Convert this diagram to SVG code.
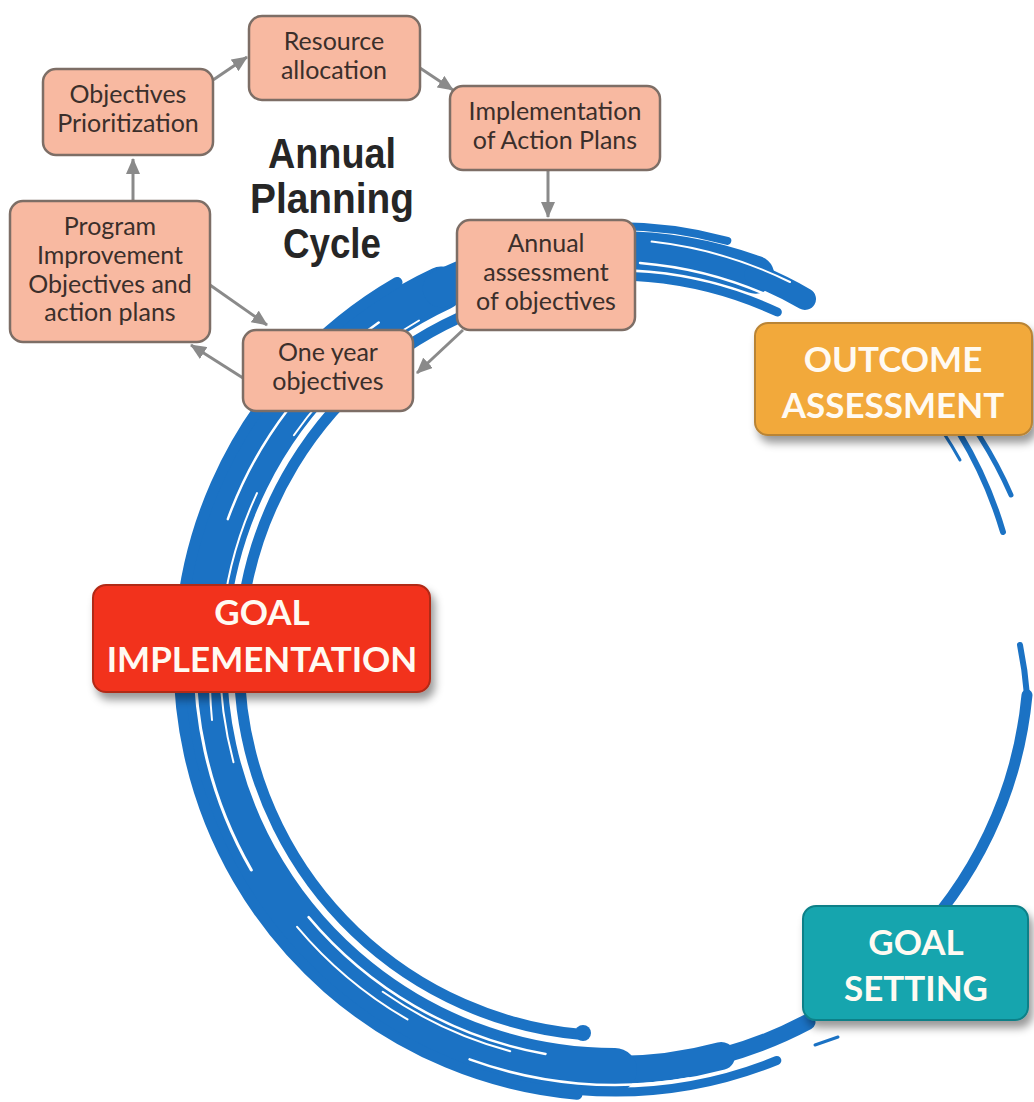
<svg xmlns="http://www.w3.org/2000/svg" width="1034" height="1102" viewBox="0 0 1034 1102">
<style>
.brush{fill:none;stroke:#1b72c4;stroke-linecap:round}
.streak{fill:none;stroke:#ffffff;stroke-linecap:round}
.sbox{fill:#f8b9a1;stroke:#7d6e66;stroke-width:2.5}
.stxt{font-family:Lato,"Open Sans",sans-serif;font-size:25px;fill:#3b2f2b;text-anchor:middle}
.btxt{font-family:Lato,"Open Sans",sans-serif;font-weight:bold;font-size:35px;fill:#fffaf2;text-anchor:middle}
.title{font-family:"Liberation Sans",Arial,sans-serif;font-weight:bold;font-size:42px;fill:#262626;text-anchor:middle}
.conn{fill:none;stroke:#8a8a8a;stroke-width:3}
</style>
<defs>
<marker id="ah" markerWidth="16" markerHeight="14" refX="15" refY="7" orient="auto" markerUnits="userSpaceOnUse">
<path d="M0,0 L16,7 L0,14 Z" fill="#8a8a8a"/>
</marker>
<filter id="sh" x="-10%" y="-10%" width="130%" height="140%">
<feDropShadow dx="4" dy="7" stdDeviation="4" flood-color="#000" flood-opacity="0.4"/>
</filter>
</defs>
<rect width="1034" height="1102" fill="#ffffff"/>

<g id="brush-circle">
<!-- core -->
<path class="brush" stroke-width="16" d="M807.5 1022 A410 410 0 0 1 721.1 1056"/>
<path class="brush" stroke-width="28" d="M721.1 1056 A410 410 0 0 1 615 1070"/>
<path class="brush" stroke-width="44" d="M615 1070 A410 410 0 0 1 441.7 288.4"/>
<path class="brush" stroke-width="38" d="M441.7 288.4 A410 410 0 0 1 755.2 274.7"/>
<path class="brush" stroke-width="22" d="M755.2 274.7 A410 410 0 0 1 805 299"/>
<!-- outer strands -->
<path class="brush" stroke-width="9" d="M776.8 1060.5 A432 432 0 0 1 577.4 1090.4"/>
<path class="brush" stroke-width="11" d="M577 1094.3 A436 436 0 0 1 397 282.4"/>
<path class="brush" stroke-width="8" d="M466.6 252.2 A434 434 0 0 1 727.3 240.8"/>
<!-- inner strands -->
<path class="brush" stroke-width="11" d="M582.2 1034.6 A376 376 0 0 1 486.4 306.7"/>
<circle cx="583" cy="1033" r="8" fill="#1b72c4"/>
<path class="brush" stroke-width="9" d="M515.6 289.1 A384 384 0 0 1 777.3 312"/>
<!-- right thin strands -->
<path class="brush" stroke-width="6" d="M908 366 A415 415 0 0 1 1003 532"/>
<path class="brush" stroke-width="5" d="M942 386 A427 427 0 0 1 1011 495"/>
<path class="brush" stroke-width="3" d="M925 407 A400 400 0 0 1 960 460"/>
<path class="brush" stroke-width="6" d="M1020 645 A412 412 0 0 1 1027 695"/>
<path class="brush" stroke-width="11" d="M1027 695 A412 412 0 0 1 905 951"/>
<path class="brush" stroke-width="3" d="M815 1045 L838 1037"/>
<!-- streaks -->
<path class="streak" stroke-width="2.5" d="M545.5 1053.9 A400 400 0 0 1 308.6 917.1"/>
<path class="streak" stroke-width="3" d="M251.3 870 A420 420 0 0 1 196.6 623.4"/>
<path class="streak" stroke-width="2" d="M233.5 762.2 A395 395 0 0 1 257 493.1"/>
<path class="streak" stroke-width="2.5" d="M227.8 519.1 A412 412 0 0 1 378.7 322.5"/>
<path class="streak" stroke-width="2" d="M510.2 1051.2 A405 405 0 0 1 382.7 991.8"/>
<path class="streak" stroke-width="2.5" d="M688.8 1078.5 A425 425 0 0 1 469.6 1059.4"/>
<path class="streak" stroke-width="2.5" d="M640 263 A398 398 0 0 1 790 306"/>
<path class="streak" stroke-width="2" d="M651.6 241.6 A420 420 0 0 1 790 282"/>
<path class="streak" stroke-width="2" d="M293.9 435.2 A392 392 0 0 1 419 320.5"/>
<path class="streak" stroke-width="2" d="M407.5 1019.4 A415 415 0 0 1 297.1 926.8"/>
<path class="streak" stroke-width="2" d="M212 720 A404 404 0 0 1 218 600"/>
</g>

<g id="connectors">
<path class="conn" d="M133 200 L133 159" marker-end="url(#ah)"/>
<path class="conn" d="M213 80 L247 57" marker-end="url(#ah)"/>
<path class="conn" d="M420 68 L453 90" marker-end="url(#ah)"/>
<path class="conn" d="M548 170 L548 217" marker-end="url(#ah)"/>
<path class="conn" d="M463 330 L417 373" marker-end="url(#ah)"/>
<path class="conn" d="M243 378 L191 345" marker-end="url(#ah)"/>
<path class="conn" d="M210 285 L267 325" marker-end="url(#ah)"/>
</g>

<g id="resource-allocation">
<rect class="sbox" x="249" y="16" width="171" height="84" rx="13"/>
<text class="stxt" x="334" y="50">Resource</text>
<text class="stxt" x="334" y="79">allocation</text>
</g>
<g id="objectives-prioritization">
<rect class="sbox" x="43" y="69" width="170" height="86" rx="13"/>
<text class="stxt" x="128" y="103">Objectives</text>
<text class="stxt" x="128" y="132">Prioritization</text>
</g>
<g id="program-improvement">
<rect class="sbox" x="10" y="201" width="200" height="141" rx="13"/>
<text class="stxt" x="110" y="235">Program</text>
<text class="stxt" x="110" y="264">Improvement</text>
<text class="stxt" x="110" y="293">Objectives and</text>
<text class="stxt" x="110" y="321">action plans</text>
</g>
<g id="one-year-objectives">
<rect class="sbox" x="243" y="330" width="170" height="81" rx="13"/>
<text class="stxt" x="328" y="361">One year</text>
<text class="stxt" x="328" y="390">objectives</text>
</g>
<g id="implementation-action-plans">
<rect class="sbox" x="450" y="86" width="210" height="84" rx="13"/>
<text class="stxt" x="555" y="120">Implementation</text>
<text class="stxt" x="555" y="149">of Action Plans</text>
</g>
<g id="annual-assessment">
<rect class="sbox" x="457" y="220" width="178" height="110" rx="13"/>
<text class="stxt" x="546" y="252">Annual</text>
<text class="stxt" x="546" y="281">assessment</text>
<text class="stxt" x="546" y="310">of objectives</text>
</g>

<g id="title">
<text class="title" x="332" y="168" textLength="128" lengthAdjust="spacingAndGlyphs">Annual</text>
<text class="title" x="332" y="213" textLength="164" lengthAdjust="spacingAndGlyphs">Planning</text>
<text class="title" x="332" y="258" textLength="98" lengthAdjust="spacingAndGlyphs">Cycle</text>
</g>

<g id="outcome-assessment">
<rect x="755" y="323" width="277" height="112" rx="13" fill="#f2a93b" stroke="#b98435" stroke-width="2" filter="url(#sh)"/>
<text class="btxt" x="893" y="372">OUTCOME</text>
<text class="btxt" x="893" y="418">ASSESSMENT</text>
</g>
<g id="goal-implementation">
<rect x="93" y="585" width="337" height="107" rx="13" fill="#f2301c" stroke="#b02a18" stroke-width="2" filter="url(#sh)"/>
<text class="btxt" x="262" y="625">GOAL</text>
<text class="btxt" x="262" y="672">IMPLEMENTATION</text>
</g>
<g id="goal-setting">
<rect x="803" y="906" width="225" height="114" rx="13" fill="#16a5ae" stroke="#0f8088" stroke-width="2" filter="url(#sh)"/>
<text class="btxt" x="916" y="955">GOAL</text>
<text class="btxt" x="916" y="1001">SETTING</text>
</g>
</svg>
